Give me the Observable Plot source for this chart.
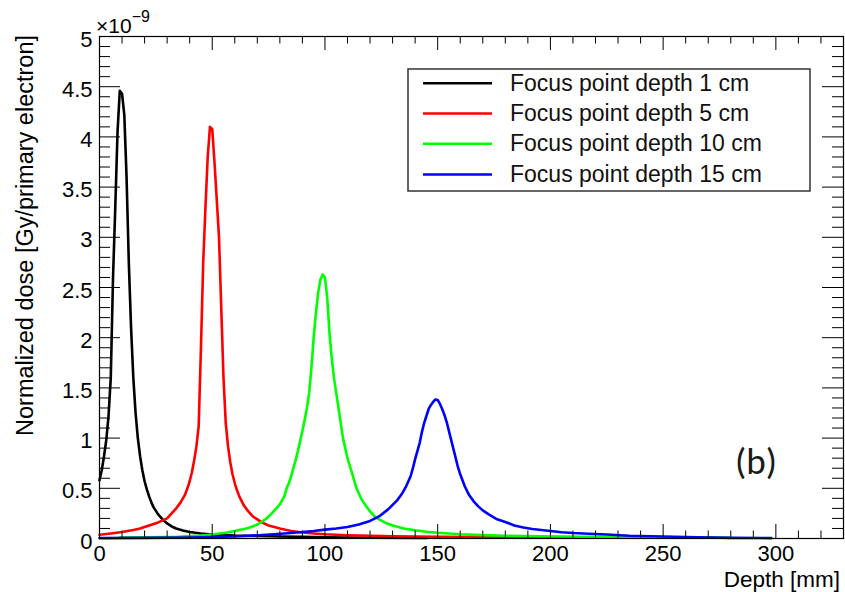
<!DOCTYPE html>
<html><head><meta charset="utf-8">
<script src="https://cdn.jsdelivr.net/npm/d3@7"></script>
<script src="https://cdn.jsdelivr.net/npm/@observablehq/plot@0.6"></script>
<style>
body{margin:0;background:#fff}
#chart{position:relative;width:845px;height:592px}
</style>
</head><body><div id="chart"></div>
<script>
// ---- tick values ----
const xMajor = [0, 50, 100, 150, 200, 250, 300];
const xMinor = [10,20,30,40,60,70,80,90,110,120,130,140,160,170,180,190,210,220,230,240,260,270,280,290,310,320];
const yMajor = [0, 0.5, 1, 1.5, 2, 2.5, 3, 3.5, 4, 4.5, 5];
const yMinor = [0.1,0.2,0.3,0.4,0.6,0.7,0.8,0.9,1.1,1.2,1.3,1.4,1.6,1.7,1.8,1.9,2.1,2.2,2.3,2.4,2.6,2.7,2.8,2.9,3.1,3.2,3.3,3.4,3.6,3.7,3.8,3.9,4.1,4.2,4.3,4.4,4.6,4.7,4.8,4.9];

// ---- series (depth in mm, dose in 1e-9 Gy/primary electron) ----
const seriesNames = ["Focus point depth 1 cm","Focus point depth 5 cm","Focus point depth 10 cm","Focus point depth 15 cm"];
const seriesColors = ["#000000","#ff0000","#00ff00","#0000ff"];

const depth1 = [0,1,2,3,4,5,6,7,8,9,10,11,12,13,14,15,16,17,18,19,20,21,22,23,24,26,28,30,32,34,37,40,45,50,55,60,70,80,90,100,120,145];
const dose1  = [0.58,0.68,0.82,0.98,1.22,1.6,2.6,3.3,4.05,4.46,4.43,4.22,3.6,2.75,2.1,1.6,1.25,1.0,0.82,0.68,0.57,0.49,0.42,0.36,0.31,0.24,0.19,0.15,0.12,0.1,0.08,0.065,0.05,0.04,0.035,0.03,0.025,0.02,0.016,0.012,0.008,0.005];

const depth5 = [0,5,10,15,18,20,22,24,26,28,30,32,34,36,38,39,40,41,42,43,44,45,46,47,48,49,50,51,52,53,54,55,56,57,58,59,60,61,62,64,66,68,70,72,75,80,85,90,95,100,110,120,130,150,170,190,214];
const dose5  = [0.037,0.05,0.065,0.085,0.1,0.115,0.13,0.145,0.16,0.18,0.2,0.25,0.3,0.36,0.44,0.5,0.57,0.66,0.78,0.92,1.12,1.9,2.75,3.3,3.8,4.1,4.08,3.75,3.38,3.0,2.3,1.6,1.15,0.92,0.76,0.64,0.55,0.48,0.42,0.33,0.27,0.22,0.19,0.16,0.13,0.1,0.075,0.06,0.05,0.042,0.033,0.027,0.022,0.018,0.014,0.011,0.009];

const depth10 = [9,20,30,35,40,45,50,53,56,60,65,68,70,72,74,76,78,80,82,83,84,85,86,87,88,89,90,91,92,93,94,95,96,97,98,99,100,101,102,103,104,105,106,107,108,109,110,112,114,116,118,120,122,124,127,130,135,140,145,150,160,170,180,195,214,230,250,279];
const dose10  = [0.01,0.012,0.015,0.018,0.025,0.03,0.04,0.05,0.058,0.075,0.1,0.12,0.14,0.165,0.2,0.24,0.29,0.34,0.42,0.5,0.55,0.62,0.7,0.78,0.87,0.97,1.07,1.18,1.3,1.45,1.7,2.0,2.25,2.45,2.58,2.63,2.6,2.4,2.05,1.8,1.6,1.45,1.3,1.15,1.0,0.9,0.8,0.65,0.5,0.4,0.33,0.27,0.22,0.19,0.155,0.13,0.1,0.082,0.068,0.057,0.042,0.034,0.028,0.022,0.018,0.014,0.012,0.01];

const depth15 = [0,20,40,60,74,85,95,100,105,110,115,120,124,128,132,134,136,138,139,140,141,142,143,144,145,146,147,148,149,150,151,152,153,154,155,156,157,158,159,160,162,164,166,168,170,173,176,180,184,188,192,198,205,210,217,225,235,250,265,280,298];
const dose15  = [0.004,0.006,0.01,0.02,0.037,0.055,0.075,0.088,0.1,0.115,0.14,0.175,0.22,0.29,0.38,0.44,0.52,0.62,0.7,0.79,0.87,0.95,1.06,1.15,1.22,1.29,1.33,1.36,1.385,1.38,1.34,1.29,1.23,1.16,1.07,0.98,0.89,0.8,0.71,0.64,0.52,0.43,0.37,0.32,0.28,0.235,0.195,0.165,0.13,0.11,0.095,0.08,0.063,0.055,0.048,0.04,0.028,0.02,0.012,0.006,0.004];

const depths = [depth1, depth5, depth10, depth15];
const doses = [dose1, dose5, dose10, dose15];

// ---- layout ----
const W = 845, H = 592, mL = 99, mR = 2, mT = 36, mB = 54;
const pw = W - mL - mR, ph = H - mT - mB;
const FONT = "'Liberation Sans', Arial, Helvetica, sans-serif";
const fmt = d => String(d);

const lineMarks = depths.map((dp, i) =>
  Plot.line(dp.map((d, j) => ({depth: d, dose: doses[i][j]})),
    {x: "depth", y: "dose", stroke: seriesColors[i], strokeWidth: 2.6}));

const plot = Plot.plot({
  width: W, height: H,
  marginLeft: mL, marginRight: mR, marginTop: mT, marginBottom: mB,
  style: {fontFamily: FONT, background: "#fff", color: "#000"},
  x: {domain: [0, 330]},
  y: {domain: [0, 5]},
  marks: [
    ...lineMarks,
    // inward ticks (ROOT style), bottom/top/left/right
    Plot.ruleX(xMajor, {x: d => d, insetTop: ph - 14, stroke: "#000"}),
    Plot.ruleX(xMinor, {x: d => d, insetTop: ph - 7.5, stroke: "#000"}),
    Plot.ruleX(xMajor, {x: d => d, insetBottom: ph - 14, stroke: "#000"}),
    Plot.ruleX(xMinor, {x: d => d, insetBottom: ph - 7.5, stroke: "#000"}),
    Plot.ruleY(yMajor, {y: d => d, insetRight: pw - 21, stroke: "#000"}),
    Plot.ruleY(yMinor, {y: d => d, insetRight: pw - 11, stroke: "#000"}),
    Plot.ruleY(yMajor, {y: d => d, insetLeft: pw - 21, stroke: "#000"}),
    Plot.ruleY(yMinor, {y: d => d, insetLeft: pw - 11, stroke: "#000"}),
    Plot.frame({stroke: "#000", strokeWidth: 1.2}),
    Plot.axisX(xMajor, {tickSize: 0, tickPadding: 7, fontSize: 22, tickFormat: fmt, label: null, fill: "#000"}),
    Plot.axisY(yMajor, {tickSize: 0, tickPadding: 7, fontSize: 22, tickFormat: fmt, label: null, dy: 3, fill: "#000"})
  ]
});

document.getElementById("chart").appendChild(plot);
const svg = d3.select(plot);

// exponent
const ex = svg.append("text").attr("x", 96).attr("y", 33).attr("text-anchor", "start")
  .attr("font-family", FONT).attr("font-size", 21).attr("fill", "#000");
ex.append("tspan").text("×10");
ex.append("tspan").attr("font-size", 16).attr("dy", -11).text("−9");

// axis titles
svg.append("text").attr("x", 840).attr("y", 587).attr("text-anchor", "end")
  .attr("font-family", FONT).attr("font-size", 22.5).attr("fill", "#000").text("Depth [mm]");
svg.append("text").attr("transform", "translate(33,35) rotate(-90)").attr("text-anchor", "end")
  .attr("font-family", FONT).attr("font-size", 23.5).attr("fill", "#000")
  .text("Normalized dose [Gy/primary electron]");

// panel label
svg.append("text").attr("x", 756).attr("y", 474).attr("text-anchor", "middle")
  .attr("font-family", "Carlito, 'Open Sans', 'Noto Sans', sans-serif").attr("font-size", 37).attr("fill", "#1a1a1a").text("(b)");

// legend
const lg = svg.append("g");
lg.append("rect").attr("x", 408).attr("y", 69).attr("width", 402).attr("height", 122)
  .attr("fill", "#fff").attr("stroke", "#333").attr("stroke-width", 1.5);
const rowLine = [83.3, 113.5, 143.7, 174.5];
seriesNames.forEach((name, i) => {
  lg.append("line").attr("x1", 423).attr("x2", 492).attr("y1", rowLine[i]).attr("y2", rowLine[i])
    .attr("stroke", seriesColors[i]).attr("stroke-width", 2.6);
  lg.append("text").attr("x", 510).attr("y", rowLine[i] + 7.6).attr("text-anchor", "start")
    .attr("font-family", FONT).attr("font-size", 23).attr("fill", "#111").text(name);
});
</script>
</body></html>
